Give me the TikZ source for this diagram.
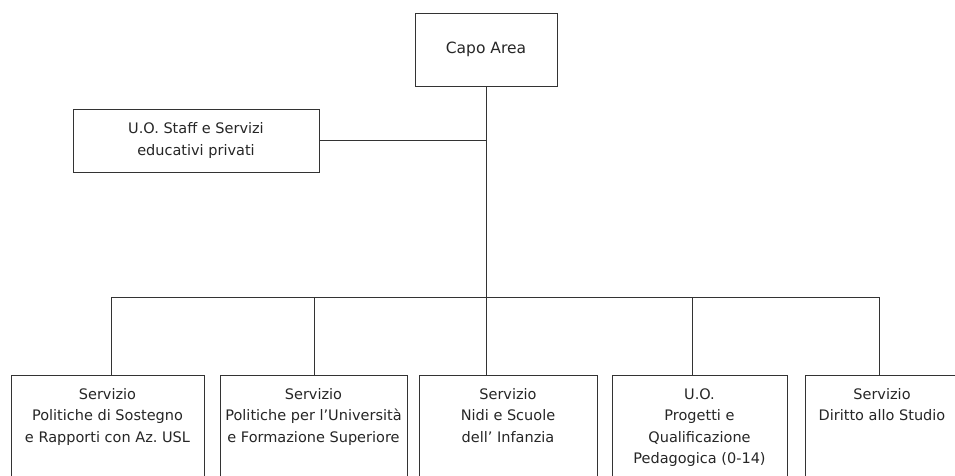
\documentclass[tikz,border=0pt]{standalone}
\usepackage{fontspec}
\setmainfont{DejaVu Sans}
\usetikzlibrary{shapes,arrows}
\frenchspacing
\newcommand{\unittext}[2]{\parbox[t][110pt][t]{#1}{\centering #2}}

\begin{document}
\begin{tikzpicture}[x=1pt,y=-1pt,
    block_head/.style ={rectangle, draw=black!80, line width=0.8pt, fill=white,
      minimum width=142pt, minimum height=73pt, inner sep=0pt},
    block_staff/.style ={rectangle, draw=black!80, line width=0.8pt, fill=white,
      minimum width=246pt, minimum height=63pt, align=center, inner sep=0pt},
    block_unit/.style ={rectangle, draw=black!80, line width=0.8pt, fill=white,
      anchor=north, inner xsep=2pt, inner ysep=13pt},
      line/.style ={draw, black!80, line width=0.8pt}]
    \useasboundingbox (0,0) rectangle (955,475);
    \tikzset{every node/.append style={font=\fontsize{14.5}{21.5}\selectfont\color{black!85}}}
    % top of the chart
    \node [block_head] (capo) at (486,49.5) {\fontsize{15.5}{21.5}\selectfont Capo Area};
    \node [block_staff] (staff) at (196,140.5) {U.O. Staff e Servizi\\educativi privati};
    % units at the bottom
    \node [block_unit] (sostegno) at (107.5,375) {\unittext{189pt}{Servizio\\Politiche di Sostegno\\e Rapporti con Az. USL}};
    \node [block_unit] (univ) at (313.5,375) {\unittext{183pt}{Servizio\\Politiche per l'Università\\e Formazione Superiore}};
    \node [block_unit] (nidi) at (508,375) {\unittext{174pt}{Servizio\\Nidi e Scuole\\dell' Infanzia}};
    \node [block_unit] (progetti) at (699.5,375) {\unittext{171pt}{U.O.\\Progetti e\\Qualificazione\\Pedagogica (0-14)}};
    \node [block_unit] (studio) at (882,375) {\unittext{150pt}{Servizio\\Diritto allo Studio}};
    % points on the bus
    \coordinate (hub) at (486,297);
    \coordinate (b1) at (111,297);
    \coordinate (b2) at (314,297);
    \coordinate (b4) at (692,297);
    \coordinate (b5) at (879,297);
    % connecting nodes with paths
    \begin{scope}[every path/.style=line]
      \path (capo) -- (hub);
      \path (staff.east) -- (staff.east -| hub);
      \path (b1) -- (b5);
      \path (b1) -- (b1 |- sostegno.north);
      \path (b2) -- (b2 |- univ.north);
      \path (hub) -- (hub |- nidi.north);
      \path (b4) -- (b4 |- progetti.north);
      \path (b5) -- (b5 |- studio.north);
    \end{scope}
  \end{tikzpicture}
\end{document}
